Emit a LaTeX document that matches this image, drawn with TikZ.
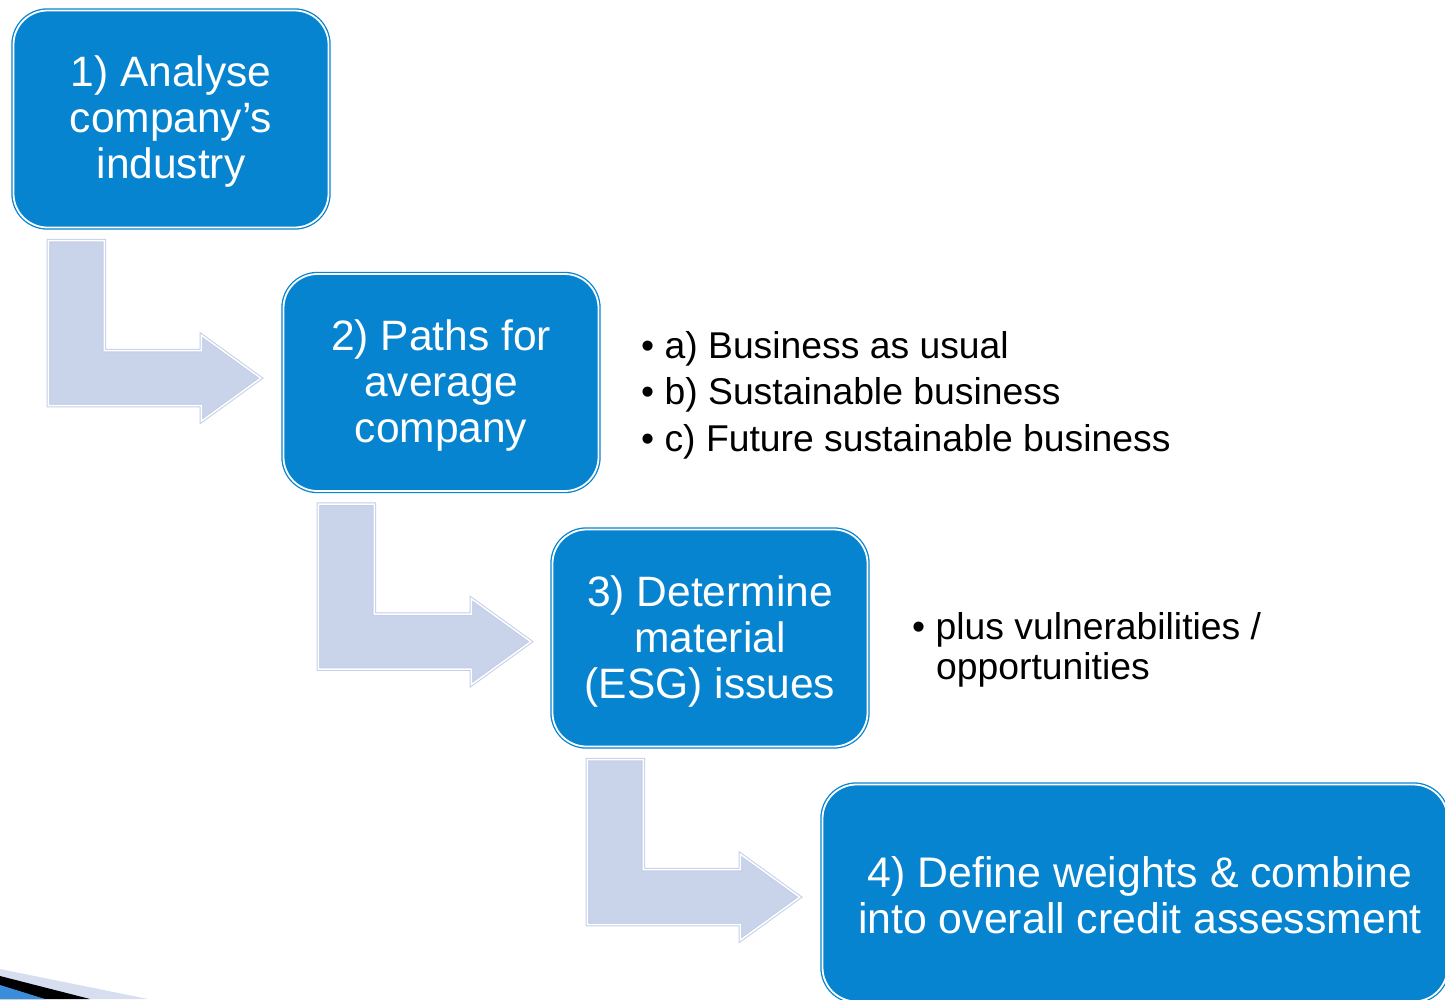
\documentclass[tikz,border=0pt]{standalone}
\usepackage{fontspec}
\setmainfont{Liberation Sans}
\definecolor{boxblue}{HTML}{0784D0}
\definecolor{arrowfill}{HTML}{C9D3EA}
\definecolor{arrowline}{HTML}{C3CEE8}
\definecolor{swooshblue}{HTML}{3C8CDC}
\definecolor{swooshlight}{HTML}{D6DEF0}

\tikzset{
  stepbox/.style={rectangle, rounded corners=34pt, fill=boxblue, draw=boxblue,
    line width=1.3pt, double=white, double distance=1.8pt, inner sep=0pt},
  steptext/.style={text=white, align=center, inner sep=0pt,
    font=\fontsize{42.5}{46}\selectfont},
  bulletitem/.style={anchor=base west, inner sep=0pt, text=black,
    font=\fontsize{37.3}{46}\selectfont},
  pics/bentarrow/.style={code={
    \draw[arrowline, line width=1pt, double=white, double distance=1.5pt, fill=arrowfill]
      (1.5,1.5) -- (57.5,1.5) -- (57.5,111.5) -- (154.5,111.5) -- (154.5,96)
      -- (214,139) -- (154.5,182) -- (154.5,166.5) -- (1.5,166.5) -- cycle;
  }}
}

\begin{document}
\begin{tikzpicture}[x=1pt, y=-1pt]
  \useasboundingbox (0,0) rectangle (1445,999);
  \clip (0,0) rectangle (1445,999);

  % process steps
  \node[stepbox, minimum width=315, minimum height=217] (b1) at (171,119) {};
  \node[stepbox, minimum width=315, minimum height=217] (b2) at (441,382.5) {};
  \node[stepbox, minimum width=315, minimum height=217] (b3) at (710,638) {};
  \node[stepbox, minimum width=625, minimum height=217] (b4) at (1135,893) {};

  \node[steptext] (t1) at ([yshift=-3]b1.center) {1) Analyse\\company’s\\industry};
  \node[steptext] (t2) at ([yshift=-3]b2.center) {2) Paths for\\average\\company};
  \node[steptext] (t3) at ([yshift=-3]b3.center) {3) Determine\\material\\(ESG) issues};
  \node[steptext, font=\fontsize{42.8}{46}\selectfont] (t4) at ([xshift=5,yshift=-2]b4.center)
    {4) Define weights \& combine\\into overall credit assessment};

  % bent arrows leading from one step to the next
  \pic at ([shift={(34,11)}]b1.south west) {bentarrow};
  \pic at ([shift={(34,11)}]b2.south west) {bentarrow};
  \pic at ([shift={(34,11)}]b3.south west) {bentarrow};

  % notes beside the steps
  \node[bulletitem] (n1) at (641,358) {•\ a) Business as usual};
  \node[bulletitem] (n2) at (641,404) {•\ b) Sustainable business};
  \node[bulletitem] (n3) at (641,451) {•\ c) Future sustainable business};
  \node[bulletitem] (n4) at (912,639) {•\ plus vulnerabilities /};
  \node[bulletitem] (n5) at ([shift={(24,40)}]n4.base west) {opportunities};

  % corner swoosh
  \fill[swooshlight] (0,969) -- (148,999) -- (0,999) -- cycle;
  \fill[black] (0,976) -- (90,999) -- (0,999) -- cycle;
  \fill[swooshblue] (0,985) -- (45,999) -- (0,999) -- cycle;
\end{tikzpicture}
\end{document}
